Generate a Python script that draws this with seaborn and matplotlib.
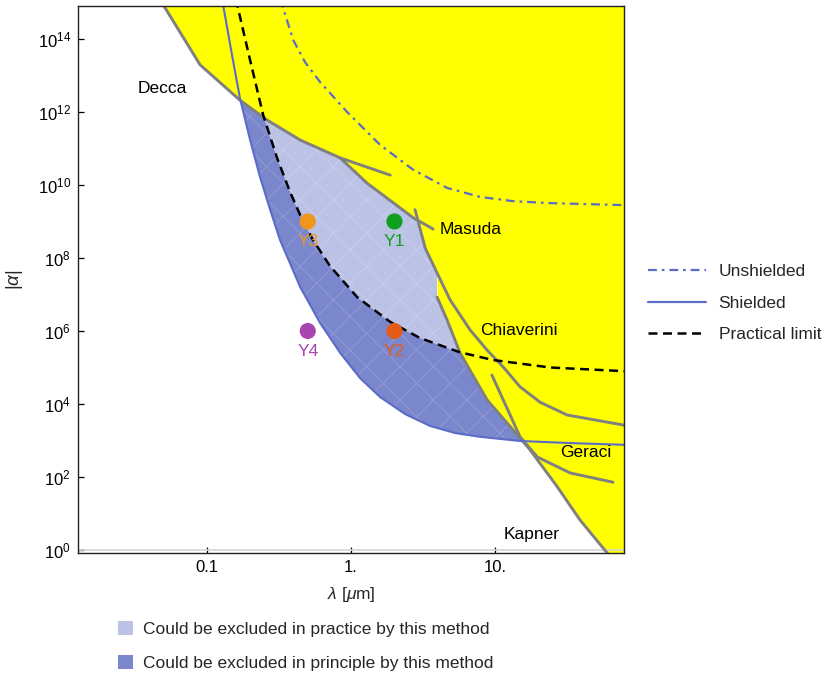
import numpy as np
import pandas as pd
import matplotlib
matplotlib.use("Agg")
import matplotlib.pyplot as plt
from matplotlib.lines import Line2D
from matplotlib.patches import Patch
import seaborn as sns

decca_x = [0.045, 0.0894, 0.169, 0.261, 0.443, 0.84, 1.87]
decca_y = [1.6e15, 1.95e13, 2.1e12, 6.0e11, 1.7e11, 5.5e10, 1.86e10]

masuda_x = [0.84, 0.98, 1.29, 2.70, 3.71]
masuda_y = [5.5e10, 3.1e10, 1.12e10, 1.26e9, 6.2e8]

chiaverini_x = [2.78, 3.27, 3.95, 4.87, 6.70, 8.79, 11.4, 14.9, 20.5, 31.6, 80]
chiaverini_y = [2.1e9, 1.86e8, 3.9e7, 7.1e6, 1.07e6, 3.0e5, 1.02e5, 2.95e4, 1.12e4, 5.0e3, 2.6e3]

kapner_x = [3.95, 4.64, 5.71, 8.79, 14.9, 17.5, 27.0, 38.9, 60, 80]
kapner_y = [8.5e6, 2.0e6, 2.5e5, 1.3e4, 1.17e3, 550, 54, 6.6, 0.83, 0.2]

geraci_x = [9.5, 14.9, 19.6, 33.2, 65.9]
geraci_y = [6.2e4, 1.26e3, 355, 129, 72]

# Projected sensitivity curves
shielded_x = [0.1256, 0.149, 0.169, 0.199, 0.233, 0.274, 0.321, 0.443, 0.609, 0.84, 1.155,
              1.59, 2.37, 3.54, 5.27, 7.87, 14.9, 33.2, 80]
shielded_y = [1.6e15, 3.6e13, 2.4e12, 1.7e11, 1.66e10, 2.1e9, 3.1e8, 1.6e7, 1.66e6, 2.5e5, 5.1e4,
              1.55e4, 5.3e3, 2.5e3, 1.6e3, 1.26e3, 970, 850, 760]

unshielded_x = [0.316, 0.396, 0.479, 0.609, 0.938, 1.59, 2.70, 4.64, 7.87, 13.3, 23.0, 80]
unshielded_y = [1.6e15, 9.4e13, 2.3e13, 6.6e12, 1.0e12, 1.25e11, 2.6e10, 8.3e9, 4.7e9, 3.6e9, 3.2e9, 2.8e9]

practical_x = [0.156, 0.199, 0.245, 0.306, 0.377, 0.443, 0.544, 0.714, 1.10, 1.87, 3.01, 5.71, 9.69, 24.1, 80]
practical_y = [1.6e15, 2.6e13, 8.3e11, 5.5e10, 6.4e9, 1.5e9, 3.1e8, 6.0e7, 8.5e6, 1.77e6, 6.4e5, 2.6e5, 1.6e5, 1.0e5, 7.9e4]

# Design points
point_names = ["Y1", "Y2", "Y3", "Y4"]
point_x = [2.0, 2.0, 0.5, 0.5]
point_y = [1e9, 1e6, 1e9, 1e6]
point_colors = ["#0EA01E", "#E35B17", "#F0961A", "#A845B0"]

# experiment labels
label_names = ["Decca", "Masuda", "Chiaverini", "Geraci", "Kapner"]
label_x = [0.0327, 4.15, 7.87, 28.3, 11.4]
label_y = [4.5e12, 5.9e8, 1.06e6, 480, 2.6]

YELLOW = "#FFFF00"
LIGHT = "#BCC2E6"
DARK = "#7B87CC"
BLUE = "#5B6CC8"
GRAY = "#808080"

sns.set_style("ticks")
plt.rcParams["font.family"] = ["Liberation Sans", "DejaVu Sans"]
plt.rcParams["mathtext.fontset"] = "custom"
plt.rcParams["mathtext.rm"] = "Liberation Sans"
plt.rcParams["mathtext.it"] = "Liberation Sans:italic"
plt.rcParams["hatch.linewidth"] = 0.6

fig = plt.figure(figsize=(8.3, 6.77), dpi=100)
ax = fig.add_axes([0.094, 0.1832, 0.658, 0.808])
ax.set_xscale("log")
ax.set_yscale("log")
xmin, xmax = 0.0127, 78.7
ymin, ymax = 0.83, 8e14
TOP = 1e17


def logcurve(xs, ys, lx):
    out = np.interp(lx, np.log10(xs), np.log10(ys), left=np.nan, right=np.nan)
    return out


lx = np.linspace(np.log10(xmin), np.log10(80), 3000)
env = np.nanmin(np.vstack([
    logcurve(decca_x, decca_y, lx),
    logcurve(masuda_x, masuda_y, lx),
    logcurve(chiaverini_x, chiaverini_y, lx),
    logcurve(kapner_x, kapner_y, lx),
    np.full_like(lx, np.log10(TOP)),
]), axis=0)
prac = logcurve(practical_x, practical_y, lx)
shld = logcurve(shielded_x, shielded_y, lx)

xx = 10 ** lx
ax.fill_between(xx, 10 ** env, TOP, where=env < np.log10(TOP), color=YELLOW, lw=0, interpolate=True)

ok = ~np.isnan(prac)
ax.fill_between(xx[ok], 10 ** prac[ok], 10 ** env[ok], where=prac[ok] < env[ok],
                facecolor=LIGHT, edgecolor=(1, 1, 1, 0.22), hatch="x", lw=0, interpolate=True)
ok = ~np.isnan(shld) & ~np.isnan(prac)
upper = np.minimum(prac, env)
ax.fill_between(xx[ok], 10 ** shld[ok], 10 ** upper[ok], where=shld[ok] < upper[ok],
                facecolor=DARK, edgecolor=(1, 1, 1, 0.18), hatch="x", lw=0, interpolate=True)
# left of the practical curve: between shielded and Decca
ok = ~np.isnan(shld) & np.isnan(prac)
ax.fill_between(xx[ok], 10 ** shld[ok], 10 ** env[ok], where=shld[ok] < env[ok],
                facecolor=DARK, edgecolor=(1, 1, 1, 0.18), hatch="x", lw=0, interpolate=True)

ax.axhline(1, color="#D4D4D4", lw=1.2, zorder=1)

for xs, ys in [(decca_x, decca_y), (masuda_x, masuda_y), (chiaverini_x, chiaverini_y),
               (kapner_x, kapner_y), (geraci_x, geraci_y)]:
    sns.lineplot(x=xs, y=ys, ax=ax, color=GRAY, lw=2.1, sort=False, estimator=None)

sns.lineplot(x=shielded_x, y=shielded_y, ax=ax, color=BLUE, lw=1.5, sort=False, estimator=None)
sns.lineplot(x=unshielded_x, y=unshielded_y, ax=ax, color=BLUE, lw=1.6, sort=False,
             estimator=None, linestyle=(0, (4, 2.2, 1.2, 2.2)))
sns.lineplot(x=practical_x, y=practical_y, ax=ax, color="black", lw=1.8, sort=False,
             estimator=None, linestyle=(0, (3.6, 2.2)))

pts = pd.DataFrame({"name": point_names, "x": point_x, "y": point_y})
sns.scatterplot(data=pts, x="x", y="y", hue="name", palette=dict(zip(point_names, point_colors)),
                s=135, edgecolor="none", legend=False, ax=ax, zorder=5)
for n, px, py, c in zip(point_names, point_x, point_y, point_colors):
    ax.annotate(n, (px, py), xytext=(0, -14.5), textcoords="offset points",
                ha="center", va="center", color=c, fontsize=12.5)

for n, px, py in zip(label_names, label_x, label_y):
    ax.text(px, py, n, ha="left", va="center", fontsize=12.5, color="black")

ax.set_xlim(xmin, xmax)
ax.set_ylim(ymin, ymax)
ax.set_xticks([0.1, 1, 10])
ax.set_xticklabels(["0.1", "1.", "10."])
yt = [10.0 ** k for k in range(0, 15, 2)]
ax.set_yticks(yt)
ax.set_yticklabels([r"$\mathregular{10^{%d}}$" % k for k in range(0, 15, 2)])
ax.minorticks_off()
ax.tick_params(direction="in", length=4, width=0.9, labelsize=12, colors="black", pad=5)
for s in ax.spines.values():
    s.set_visible(True)
    s.set_color("#222222")
    s.set_linewidth(1.0)

ax.set_xlabel(r"$\lambda$ [$\mu$m]", fontsize=12.5)
ax.set_ylabel(r"|$\alpha$|", fontsize=13.5)
ax.xaxis.set_label_coords(0.5, -0.058)
ax.yaxis.set_label_coords(-0.097, 0.5)

line_handles = [
    Line2D([], [], color=BLUE, lw=1.6, linestyle=(0, (4, 2.2, 1.2, 2.2))),
    Line2D([], [], color=BLUE, lw=1.6),
    Line2D([], [], color="black", lw=1.8, linestyle=(0, (3.6, 2.2))),
]
fig.legend(line_handles, ["Unshielded", "Shielded", "Practical limit"], loc="center left",
           bbox_to_anchor=(0.781, 0.5524), frameon=False, fontsize=12.5, borderpad=0,
           borderaxespad=0, handlelength=3.3, handletextpad=0.75, labelspacing=0.92)

patch_handles = [Patch(facecolor=LIGHT, edgecolor="none"), Patch(facecolor=DARK, edgecolor="none")]
fig.legend(patch_handles, ["Could be excluded in practice by this method",
                           "Could be excluded in principle by this method"],
           loc="center left", bbox_to_anchor=(0.142, 0.046), frameon=False, fontsize=12.5,
           borderpad=0, borderaxespad=0, handlelength=0.86, handleheight=0.86,
           handletextpad=0.6, labelspacing=1.02)

fig.savefig("out.png", dpi=100)
